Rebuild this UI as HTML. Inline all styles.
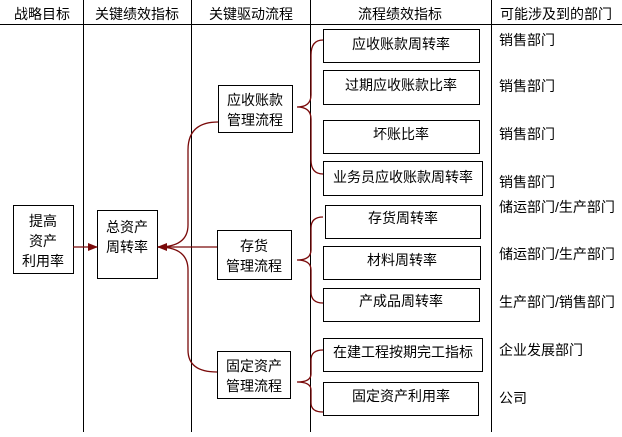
<!DOCTYPE html>
<html><head><meta charset="utf-8"><style>
html,body{margin:0;padding:0;background:#fff}
svg text{font-family:"Liberation Sans","Noto Sans CJK SC","WenQuanYi Zen Hei",sans-serif;font-size:14px;fill:#000}
</style></head><body>
<svg width="622" height="432" viewBox="0 0 622 432" xmlns="http://www.w3.org/2000/svg">
<defs><marker id="ah" markerWidth="10" markerHeight="8" refX="9" refY="4" orient="auto" markerUnits="userSpaceOnUse"><path d="M0,0 L10,4 L0,8 Z" fill="#7a0a0a"/></marker></defs>
<g stroke="#000" stroke-width="1" fill="none">
<line x1="0" y1="24.5" x2="622" y2="24.5"/>
<line x1="83.5" y1="0" x2="83.5" y2="432"/>
<line x1="191.5" y1="0" x2="191.5" y2="432"/>
<line x1="310.5" y1="0" x2="310.5" y2="432"/>
<line x1="491.5" y1="0" x2="491.5" y2="432"/>
<rect x="13.5" y="205.5" width="60" height="68"/>
<rect x="97.5" y="210.5" width="60" height="68"/>
<rect x="218.5" y="85.5" width="74" height="47"/>
<rect x="217.5" y="230.5" width="74" height="49"/>
<rect x="217.5" y="351.5" width="73" height="47"/>
<rect x="323.5" y="29.5" width="156" height="33"/>
<rect x="323.5" y="70.5" width="156" height="34"/>
<rect x="323.5" y="120.5" width="156" height="33"/>
<rect x="323.5" y="161.5" width="159" height="34"/>
<rect x="325.5" y="205.5" width="155" height="33"/>
<rect x="323.5" y="246.5" width="157" height="33"/>
<rect x="323.5" y="288.5" width="156" height="33"/>
<rect x="323.5" y="338.5" width="159" height="33"/>
<rect x="323.5" y="382.5" width="155" height="33"/>
</g>
<g stroke="#7a0a0a" stroke-width="1.3" fill="none">
<line x1="73" y1="247" x2="97" y2="247" marker-end="url(#ah)"/>
<line x1="217" y1="247" x2="158" y2="247" marker-end="url(#ah)"/>
<path d="M218,122 Q188,122 188,150 L188,225 Q188,247 158,247"/>
<path d="M217,372 Q188,372 188,350 L188,270 Q188,247 158,247"/>
<path d="M323,40 Q311,40 311,55 L311,95 Q311,107 297,107 Q311,107 311,119 L311,160 Q311,174 323,174"/>
<path d="M323,217 Q311,217 311,228 L311,250 Q311,260 297,260 Q311,260 311,270 L311,292 Q311,303 323,303"/>
<path d="M323,350 Q311,350 311,360 L311,374 Q311,382 297,382 Q311,382 311,390 L311,403 Q311,412 323,412"/>
</g>
<g text-anchor="middle">
<text x="42" y="19">战略目标</text>
<text x="137" y="19">关键绩效指标</text>
<text x="251" y="19">关键驱动流程</text>
<text x="400" y="19">流程绩效指标</text>
<text x="556" y="19">可能涉及到的部门</text>
<text x="43" y="226">提高</text>
<text x="43" y="246">资产</text>
<text x="43" y="266">利用率</text>
<text x="127" y="232">总资产</text>
<text x="127" y="252">周转率</text>
<text x="255" y="105">应收账款</text>
<text x="255" y="125">管理流程</text>
<text x="254" y="251">存货</text>
<text x="254" y="271">管理流程</text>
<text x="254" y="371">固定资产</text>
<text x="254" y="391">管理流程</text>
<text x="401" y="49">应收账款周转率</text>
<text x="401" y="90">过期应收账款比率</text>
<text x="401" y="139">坏账比率</text>
<text x="403" y="182">业务员应收账款周转率</text>
<text x="403" y="223">存货周转率</text>
<text x="402" y="265">材料周转率</text>
<text x="401" y="306">产成品周转率</text>
<text x="403" y="357">在建工程按期完工指标</text>
<text x="401" y="401">固定资产利用率</text>
</g>
<g>
<text x="499" y="45">销售部门</text>
<text x="499" y="91">销售部门</text>
<text x="499" y="139">销售部门</text>
<text x="499" y="187">销售部门</text>
<text x="499" y="212">储运部门/生产部门</text>
<text x="499" y="259">储运部门/生产部门</text>
<text x="499" y="307">生产部门/销售部门</text>
<text x="499" y="355">企业发展部门</text>
<text x="499" y="403">公司</text>
</g>
</svg>
</body></html>
